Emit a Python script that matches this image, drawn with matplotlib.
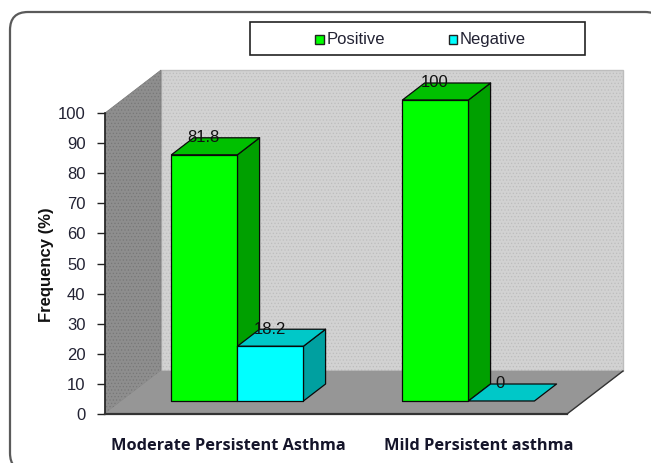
import matplotlib
matplotlib.use('Agg')
import matplotlib.pyplot as plt
from matplotlib.patches import Polygon, Rectangle, FancyBboxPatch
from matplotlib.transforms import Affine2D

categories = ['Moderate Persistent Asthma', 'Mild Persistent asthma']
series_names = ['Positive', 'Negative']
positive = [81.8, 100]
negative = [18.2, 0]
value_labels = [['81.8', '100'], ['18.2', '0']]
y_ticks = [0, 10, 20, 30, 40, 50, 60, 70, 80, 90, 100]

W, H = 651, 463
# depth of the 3d box, in data units (1 category = 231 px, 1 % = 3.01 px)
DX = 56 / 231
DY = 43 / 3.01
BAR_W = 66 / 231
BAR_FRONT = 13 / 43
BAR_BACK = 30 / 43


def px(x, y):
    # figure fraction from image pixels
    return x / W, 1 - y / H


def proj(x, v, d):
    return (x + d * DX, v + d * DY)


plt.rcParams['hatch.linewidth'] = 0.5
fig = plt.figure(figsize=(W / 100, H / 100), dpi=100, facecolor='white')

# outer rounded frame
frame_tr = Affine2D().scale(1 / W, 1 / H) + fig.transFigure
fig.add_artist(FancyBboxPatch((10, -8), 653, 459, boxstyle='round,pad=0,rounding_size=18',
                              transform=frame_tr, facecolor='white', edgecolor='#5a5a5a',
                              linewidth=1.6, zorder=-1))

ax = fig.add_axes([105 / W, (H - 414) / H, 462 / W, 301 / H], facecolor='none')
ax.set_xlim(0, 2)
ax.set_ylim(0, 100)

# walls and floor
back = [proj(0, 0, 1), proj(2, 0, 1), proj(2, 100, 1), proj(0, 100, 1)]
left = [proj(0, 0, 0), proj(0, 0, 1), proj(0, 100, 1), proj(0, 100, 0)]
floor = [proj(0, 0, 0), proj(2, 0, 0), proj(2, 0, 1), proj(0, 0, 1)]
ax.add_patch(Polygon(back, closed=True, facecolor='#d2d2d2', edgecolor='#bdbdbd', hatch='.....',
                     linewidth=1, clip_on=False, zorder=1))
ax.add_patch(Polygon(left, closed=True, facecolor='#8e8e8e', edgecolor='#777777', hatch='.....',
                     linewidth=0.5, clip_on=False, zorder=1))
ax.add_patch(Polygon(floor, closed=True, facecolor='#969696', edgecolor='#969696',
                     linewidth=0.5, clip_on=False, zorder=2))
ax.plot([2, 2 + DX], [0, DY], color='#333333', linewidth=1, clip_on=False, zorder=3)


def bar3d(x0, value, front, top, side, z):
    x1 = x0 + BAR_W
    d0, d1 = BAR_FRONT, BAR_BACK
    kw = dict(closed=True, edgecolor='#0a0a0a', linewidth=0.9, clip_on=False, zorder=z, joinstyle='round')
    if value > 0:
        ax.add_patch(Polygon([proj(x1, 0, d0), proj(x1, 0, d1), proj(x1, value, d1), proj(x1, value, d0)],
                             facecolor=side, **kw))
    ax.add_patch(Polygon([proj(x0, value, d0), proj(x1, value, d0), proj(x1, value, d1), proj(x0, value, d1)],
                         facecolor=top, **kw))
    if value > 0:
        ax.add_patch(Polygon([proj(x0, 0, d0), proj(x1, 0, d0), proj(x1, value, d0), proj(x0, value, d0)],
                             facecolor=front, **kw))


sans = 'Liberation Sans'
for i in range(len(categories)):
    center = i + 0.5
    x_pos = center - BAR_W
    x_neg = center
    bar3d(x_pos, positive[i], '#00ff00', '#00c000', '#00a000', 4)
    bar3d(x_neg, negative[i], '#00ffff', '#00c8c8', '#00a0a0', 5)
    lx, ly = proj(center - BAR_W / 2, positive[i], BAR_BACK)
    ax.text(lx - 0.1, ly, value_labels[0][i], ha='center', va='center', fontsize=12,
            family=sans, color='#111111', zorder=8, clip_on=False)
    lx, ly = proj(center + BAR_W / 2, negative[i], BAR_BACK)
    ax.text(lx - 0.1, ly, value_labels[1][i], ha='center', va='center', fontsize=12,
            family=sans, color='#111111', zorder=8, clip_on=False)

# axis
ax.set_yticks(y_ticks)
ax.set_xticks([])
ax.tick_params(axis='y', length=6, width=1, color='#222222', labelsize=12, labelcolor='#222233', pad=8)
for t in ax.get_yticklabels():
    t.set_family(sans)
for s in ['top', 'right']:
    ax.spines[s].set_visible(False)
ax.spines['left'].set_color('#222222')
ax.spines['left'].set_linewidth(1.2)
ax.spines['bottom'].set_color('#333333')
ax.spines['bottom'].set_linewidth(1.6)
for s in ax.spines.values():
    s.set_zorder(6)

# labels
x, y = px(46, 265)
fig.text(x, y, 'Frequency (%)', rotation=90, ha='center', va='center', fontsize=12,
         fontweight='bold', family=sans, color='#111111')
for cx, cat in zip([228, 478.5], categories):
    x, y = px(cx, 446)
    fig.text(x, y, cat, ha='center', va='center', fontsize=11.8, fontweight='bold',
             family='Open Sans', color='#15152a')

# legend
x, y = px(249.5, 55)
fig.add_artist(Rectangle((x, y), 335 / W, 33 / H, transform=fig.transFigure, facecolor='white',
                         edgecolor='#222222', linewidth=1.2))
for name, color, sq, tx in zip(series_names, ['#00ff00', '#00ffff'], [315, 448.5], [327, 460]):
    x, y = px(sq, 43.5)
    fig.add_artist(Rectangle((x, y), 8.5 / W, 8.5 / H, transform=fig.transFigure, facecolor=color,
                             edgecolor='#222222', linewidth=1))
    x, y = px(tx, 44)
    fig.text(x, y, name, ha='left', va='baseline', fontsize=12, family=sans, color='#222233')

fig.savefig('out.png', dpi=100)
